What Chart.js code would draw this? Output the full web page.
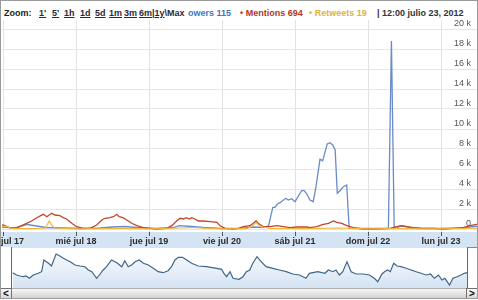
<!DOCTYPE html>
<html>
<head>
<meta charset="utf-8">
<script src="https://cdn.jsdelivr.net/npm/chart.js@4/dist/chart.umd.min.js"></script>
<style>
  body { margin: 0; background: #fff; }
  #wrap { position: relative; width: 478px; height: 300px; overflow: hidden; font-family: "Liberation Sans", Arial, sans-serif; }
  #frame { position: absolute; left: 0; top: 0; width: 476px; height: 297px; border: 1px solid #9a9a9a; pointer-events: none; z-index: 5; }
  #header { position: absolute; left: 0; top: 0; width: 478px; height: 20px; background: #fff; z-index: 3; font-weight: bold; font-size: 9px; }
  #header span { position: absolute; top: 3px; line-height: 20px; white-space: nowrap; }
  #header .lnk { color: #2a2a3a; text-decoration: underline; }
  #mainChart { position: absolute; left: 0; top: 0; }
  #navChart { position: absolute; left: 0; top: 247px; }
  .box { position: absolute; background: #fff; }
  #scroll { position: absolute; left: 0; top: 288px; width: 478px; height: 9px; background: linear-gradient(#f6f6f6, #d2d2d2); border-top: 1px solid #b0b0b0; border-bottom: 1px solid #707070; }
  .btn { position: absolute; top: 288px; width: 10px; height: 9px; border: 1px solid #707070; background: linear-gradient(#fafafa, #d8d8d8); font: bold 10px "Liberation Sans", Arial, sans-serif; line-height: 9px; text-align: center; color: #111; }
</style>
</head>
<body>
<div id="wrap">
  <canvas id="mainChart" width="478" height="248"></canvas>
  <div id="header">
    <span style="left:4px;color:#222">Zoom:</span>
    <span class="lnk" style="left:39px">1'</span>
    <span class="lnk" style="left:52px">5'</span>
    <span class="lnk" style="left:64px">1h</span>
    <span class="lnk" style="left:80px">1d</span>
    <span class="lnk" style="left:95px">5d</span>
    <span class="lnk" style="left:109px">1m</span>
    <span class="lnk" style="left:124px">3m</span>
    <span class="lnk" style="left:139px">6m</span>
    <span style="left:152px;color:#2a2a3a">|<u>1y</u>\Max</span>
    <span style="left:188px;color:#3f78c0">owers 115</span>
    <span style="left:240px;color:#b5341c">&bull; Mentions 694</span>
    <span style="left:309px;color:#e2b23a">&bull; Retweets 19</span>
    <span style="left:377px;color:#333">| 12:00 julio 23, 2012</span>
  </div>
  <canvas id="navChart" width="478" height="53"></canvas>
  <div class="box" style="left:0;top:247px;width:11px;height:41px;border-right:1px solid #666"></div>
  <div class="box" style="left:467px;top:247px;width:11px;height:41px;border-left:1px solid #666;border-top:1px solid #888"></div>
  <div id="scroll"></div>
  <div class="btn" style="left:0">&lt;</div>
  <div class="btn" style="left:466px">&gt;</div>
  <div id="frame"></div>
</div>
<script>
// --- Data (hours since mar jul 17 00:00) ---
const dayLabels = ['mar jul 17', 'mié jul 18', 'jue jul 19', 'vie jul 20', 'sáb jul 21', 'dom jul 22', 'lun jul 23'];
const dayTickHours = [0, 24, 48, 72, 96, 120, 144];
const yTickValues = [0, 2000, 4000, 6000, 8000, 10000, 12000, 14000, 16000, 18000, 20000];

const mentionHours = [-1, 0.1, 1.2, 2.9, 4.5, 6.1, 7.8, 9.4, 11.1, 12.4, 13.3, 14.4, 16.0, 17.1, 18.7, 19.8, 20.9, 22.6, 24.2, 26.4,
  28.6, 30.8, 32.5, 33.5, 35.2, 36.3, 37.4, 38.2, 39.4, 40.7, 42.3, 44.0, 46.1, 48.3, 50.5, 53.8, 55.5, 57.1, 58.2, 59.3,
  60.2, 61.3, 62.0, 63.1, 64.2, 65.9, 68.1, 70.3, 71.4, 73.0, 75.7, 77.4, 79.0, 81.2, 82.3, 83.2, 83.9, 85.6, 87.8, 90.0,
  92.2, 94.4, 96.6, 99.9, 100.9, 103.1, 105.3, 107.0, 108.6, 109.7, 111.4, 113.0, 115.2, 118.5, 122.9, 127.2, 129.4, 131.1, 132.7, 134.9,
  138.2, 141.5, 144.8, 148.1, 151.3, 153.5, 155.7, 156.5];
const mentionValues = [330, 400, 230, 70, 130, 330, 570, 800, 1130, 1330, 1470, 1230, 1570, 1400, 1330, 1130, 1000, 570, 230, 70,
  70, 400, 900, 1070, 1130, 1230, 1470, 1230, 1130, 900, 570, 330, 130, 70, 0, 70, 330, 800, 1070, 1000,
  1130, 1000, 1130, 1000, 800, 800, 730, 670, 330, 70, 0, 70, 230, 330, 570, 800, 570, 230, 230, 330,
  230, 130, 200, 200, 130, 230, 470, 570, 800, 670, 570, 330, 130, 0, 0, 70, 230, 330, 230, 130,
  70, 70, 0, 70, 130, 330, 470, 500];

const followerHours = [-1, 4, 8, 10, 14, 20, 26, 32, 36, 40, 44, 50, 56, 58, 62, 66, 72, 78, 82, 85.6,
  87.3, 88.0, 88.7, 89.4, 90.2, 91.1, 92.2, 93.0, 93.8, 94.9, 96.0, 97.1, 98.2, 99.0, 99.9, 100.9, 102.0, 102.9, 103.7, 104.2,
  105.1, 105.9, 106.6, 107.5, 108.4, 109.2, 109.9, 110.8, 111.9, 113.0, 113.8, 118, 122, 126.7, 127.7, 128.6, 129.4, 130.5, 132.2, 134.5,
  137, 143.6, 150.2, 153.5, 156.5];
const followerValues = [200, 100, 450, 350, 150, 100, 50, 100, 200, 250, 150, 50, 150, 330, 250, 150, 50, 50, 200, 170,
  300, 1230, 2170, 2170, 2500, 2630, 2900, 3070, 2900, 3030, 2730, 3300, 3830, 3830, 3500, 2900, 2730, 4230, 5900, 6970,
  6830, 7730, 8500, 8630, 8400, 7900, 3570, 3830, 4230, 4400, 70, 50, 50, 70, 18800, 230, 50, 300, 250, 100,
  50, 50, 100, 200, 300];

const retweetHours = [-1, 1, 3, 10, 14, 15.2, 16, 17, 24, 40, 48, 58, 62, 66, 72, 80, 82, 83.2, 84.5, 88, 100, 110, 120, 130, 140, 150, 156.5];
const retweetValues = [300, 250, 50, 30, 100, 800, 400, 100, 20, 50, 20, 100, 150, 80, 20, 30, 300, 650, 250, 50, 30, 100, 20, 30, 20, 50, 80];

// overview strip (range selector) below the main chart
const navDays = [0.2, 1.2, 2.1, 3.0, 3.7, 4.6, 5.6, 6.9, 7.8, 8.4, 9.6, 10.4, 11.6, 12.6, 13.5, 14.4, 15.3, 16.6, 17.9, 19.2,
  20.1, 21.0, 22.3, 23.2, 24.0, 24.9, 26.2, 27.6, 28.9, 29.7, 30.6, 31.5, 32.4, 33.5, 34.6, 35.9, 37.2, 38.5, 39.8, 41.1,
  42.0, 42.9, 43.8, 44.9, 46.0, 47.3, 49.0, 51.2, 53.9, 55.2, 55.8, 56.5, 57.4, 58.2, 59.8, 60.8, 61.7, 62.6, 63.4, 64.5,
  65.6, 66.9, 68.7, 70.4, 72.2, 73.9, 75.7, 77.4, 78.3, 80.5, 82.4, 83.3, 84.5, 85.3, 86.2, 87.1, 88.2, 89.3, 90.6, 92.4,
  94.1, 95.4, 96.3, 97.4, 98.1, 98.9, 99.6, 100.5, 101.4, 102.4, 103.8, 105.1, 106.4, 107.7, 109.0, 110.2, 111.2, 112.3, 113.2, 114.0,
  115.2, 116.1, 117.2, 118.2, 119.1, 119.8];
const navValues = [153, 130, 120, 113, 120, 97, 130, 147, 163, 280, 247, 220, 340, 320, 297, 280, 263, 230, 220, 213,
  180, 163, 97, 140, 180, 213, 280, 253, 213, 273, 213, 230, 263, 280, 247, 230, 197, 163, 153, 173,
  213, 280, 307, 307, 280, 247, 220, 213, 197, 187, 147, 113, 163, 97, 87, 113, 163, 180, 247, 313,
  263, 213, 197, 180, 163, 140, 130, 97, 147, 163, 147, 180, 163, 180, 130, 163, 263, 163, 140, 140,
  130, 97, 63, 140, 163, 180, 163, 247, 220, 213, 197, 180, 163, 147, 130, 140, 97, 130, 80, 97,
  30, 97, 113, 130, 147, 153];

// --- Helpers ---
function toPoints(xs, ys) {
    return xs.map((x, i) => ({ x: x, y: ys[i] }));
}

function formatThousands(value) {
    if (value === 0) return '0';
    return (value / 1000) + ' k';
}

// light blue strip behind the date labels
const dateBandPlugin = {
    id: 'dateBand',
    beforeDraw(chart) {
        const ctx = chart.ctx;
        const area = chart.chartArea;
        ctx.save();
        ctx.fillStyle = '#d5e4f5';
        ctx.fillRect(0, area.bottom, chart.width, chart.height - area.bottom);
        ctx.restore();
    }
};

// --- Main chart ---
const mainChart = new Chart(document.getElementById('mainChart'), {
    type: 'line',
    data: {
        datasets: [
            { label: 'Retweets', data: toPoints(retweetHours, retweetValues), borderColor: '#f0b93c', borderWidth: 1.2 },
            { label: 'Mentions', data: toPoints(mentionHours, mentionValues), borderColor: '#c4462a', borderWidth: 1.3 },
            { label: 'Followers', data: toPoints(followerHours, followerValues), borderColor: '#6a8bcb', borderWidth: 1.3 }
        ]
    },
    options: {
        responsive: false,
        animation: false,
        layout: { padding: { left: 2, top: 20, right: 0, bottom: 0 }, autoPadding: false },
        plugins: { legend: { display: false }, tooltip: { enabled: false } },
        elements: { point: { radius: 0 }, line: { tension: 0 } },
        scales: {
            x: {
                type: 'linear',
                min: -0.33,
                max: 156.16,
                afterBuildTicks: (scale) => { scale.ticks = dayTickHours.map(v => ({ value: v })); },
                afterFit: (scale) => { scale.height = 16; scale.paddingLeft = 0; scale.paddingRight = 0; },
                border: { display: false },
                grid: { color: '#e2e2e2', tickColor: '#555', tickLength: 4 },
                ticks: {
                    autoSkip: false,
                    maxRotation: 0,
                    padding: 0,
                    color: '#2b2b2b',
                    font: { family: '"Liberation Sans", Arial, sans-serif', size: 9, weight: 'bold' },
                    callback: (value) => dayLabels[dayTickHours.indexOf(value)]
                }
            },
            y: {
                position: 'right',
                min: -300,
                max: 20900,
                afterBuildTicks: (scale) => { scale.ticks = yTickValues.map(v => ({ value: v })); },
                afterFit: (scale) => { scale.width = 0; scale.paddingTop = 0; scale.paddingBottom = 0; },
                border: { display: false },
                grid: { color: '#e6e6e6', drawTicks: false },
                ticks: {
                    mirror: true,
                    padding: -7,
                    labelOffset: -5,
                    color: '#555',
                    font: { family: '"Liberation Sans", Arial, sans-serif', size: 9 },
                    callback: formatThousands
                }
            }
        }
    },
    plugins: [dateBandPlugin]
});

// --- Overview chart ---
const navCanvas = document.getElementById('navChart');
const navCtx = navCanvas.getContext('2d');
const navFill = navCtx.createLinearGradient(0, 0, 0, 41);
navFill.addColorStop(0, 'rgba(236,243,251,0.4)');
navFill.addColorStop(1, 'rgba(212,226,243,1)');

const navChart = new Chart(navCanvas, {
    type: 'line',
    data: {
        datasets: [{
            data: toPoints(navDays, navValues),
            borderColor: '#3f6688',
            borderWidth: 1.2,
            fill: 'origin',
            backgroundColor: navFill
        }]
    },
    options: {
        responsive: false,
        animation: false,
        layout: { padding: { left: 12, right: 11, top: 0, bottom: 12 }, autoPadding: false },
        plugins: { legend: { display: false }, tooltip: { enabled: false } },
        elements: { point: { radius: 0 }, line: { tension: 0 } },
        scales: {
            x: { type: 'linear', display: false, min: 0, max: 119.8 },
            y: { display: false, min: 0, max: 410 }
        }
    }
});
</script>
</body>
</html>
